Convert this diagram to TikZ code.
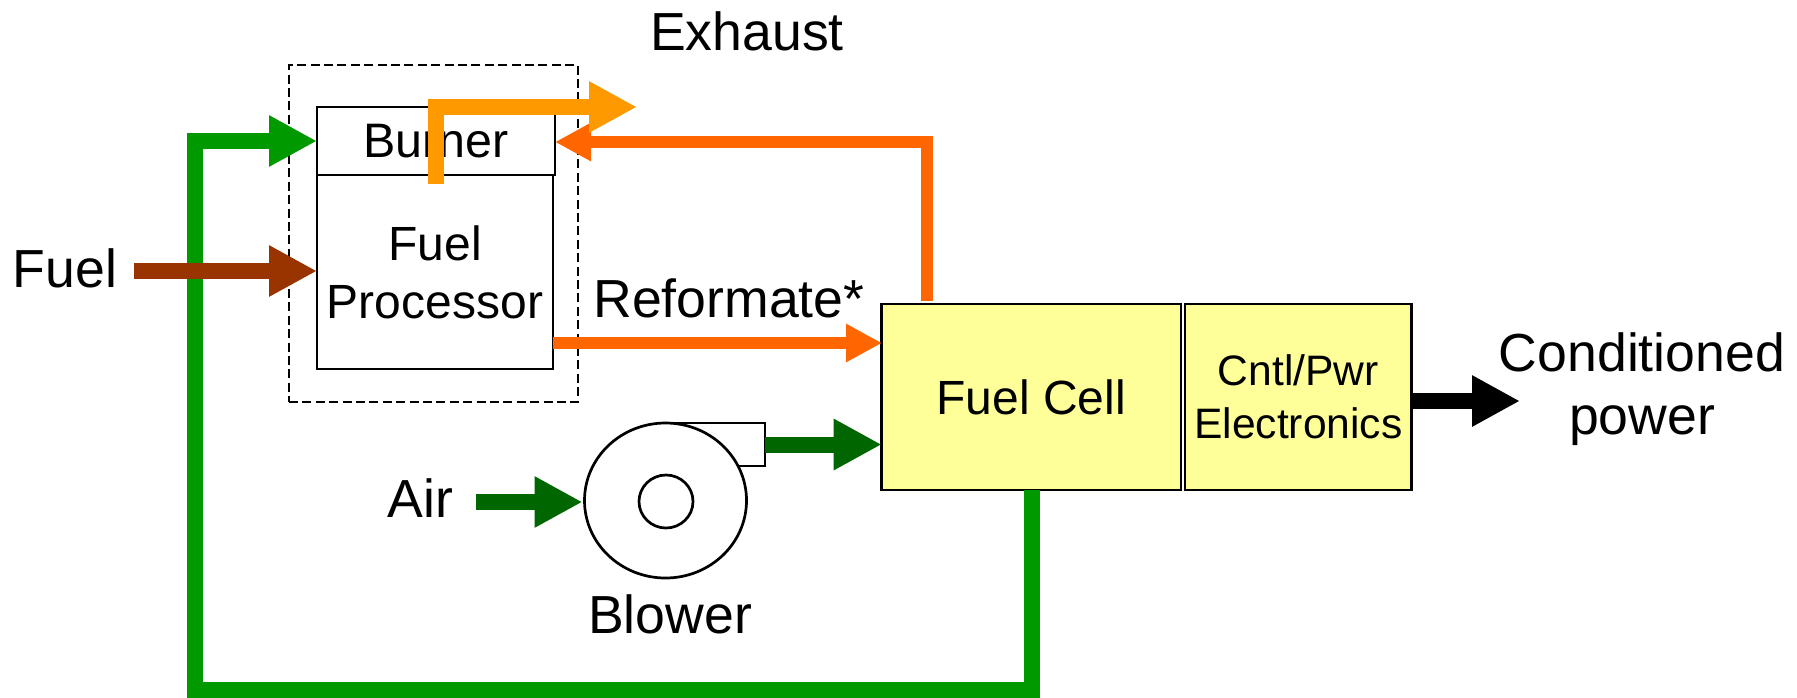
\documentclass[tikz,border=0pt]{standalone}
\usepackage{fontspec}
\setmainfont{Liberation Sans}
\usetikzlibrary{arrows.meta,shapes.geometric,calc}
\definecolor{cExhaust}{HTML}{FF9900}
\definecolor{cReform}{HTML}{FF6600}
\definecolor{cGreen}{HTML}{009900}
\definecolor{cDark}{HTML}{006600}
\definecolor{cFuel}{HTML}{993300}
\definecolor{cYellow}{HTML}{FFFF99}
\tikzset{
  box/.style={draw=black,line width=1.35pt,inner sep=0pt,outer sep=0pt,align=center},
  label26/.style={inner sep=0pt,outer sep=0pt,align=center,font=\fontsize{26.8}{31.5}\selectfont},
  big/.style={line width=8pt,-{Triangle[length=24pt,width=24pt]}},
  thin/.style={line width=6pt,-{Triangle[length=18pt,width=18pt]}},
}
\begin{document}
\begin{tikzpicture}[x=0.5pt,y=-0.5pt]
\useasboundingbox (0,0) rectangle (1797,697);
% enclosure
\node[draw=black,line width=1.25pt,dash pattern=on 4.5pt off 2.2pt,minimum width=144.5pt,minimum height=168.5pt,inner sep=0,outer sep=0] (encl) at (433.5,233.5) {};
% boxes
\node[box,minimum width=118pt,minimum height=97pt,font=\fontsize{24}{29}\selectfont] (fp) at (435,272) {Fuel\\Processor};
\node[box,minimum width=119pt,minimum height=34pt,font=\fontsize{24.2}{29}\selectfont] (burner) at (436,141) {\raisebox{-0.5pt}{Burner}};
\node[box,fill=cYellow,minimum width=149.65pt,minimum height=93pt,font=\fontsize{24}{29}\selectfont] (fc) at (1031.35,397) {Fuel Cell};
\node[box,fill=cYellow,minimum width=113.3pt,minimum height=93pt,font=\fontsize{21.3}{26.5}\selectfont] (elec) at (1298.3,397) {Cntl/Pwr\\Electronics};
% blower
\node[draw=black,line width=1.25pt,fill=white,minimum width=50pt,minimum height=21.5pt,inner sep=0,outer sep=0] (volute) at (715,444.5) {};
\node[draw=black,line width=1.35pt,fill=white,ellipse,minimum width=81pt,minimum height=77.5pt,inner sep=0,outer sep=0] (blower) at (665.5,500.5) {};
\node[draw=black,line width=1.35pt,ellipse,minimum width=27pt,minimum height=26.5pt,inner sep=0,outer sep=0] (hub) at (666,501.5) {};
% labels
\node[label26] (exhaust) at (747,31) {Exhaust};
\node[label26] (fuel) at (65,268) {Fuel};
\node[label26] (reformate) at (729,298) {Reformate*};
\node[label26] (cond) at (1642,389) {Conditioned\\power};
\node[label26] (air) at (420.5,498) {Air};
\node[label26] (blowerlabel) at (670,614) {Blower};
% free ends
\coordinate (fuelstart) at (134,271);
\coordinate (reformtip) at (882,343);
\coordinate (returnstart) at (927,301);
\coordinate (returncorner) at (927,142);
\coordinate (exstart) at (436,184);
\coordinate (excorner) at (436,107);
\coordinate (extip) at (637,107);
\coordinate (gcornerA) at (1031.5,689.5);
\coordinate (gcornerB) at (194.5,689.5);
\coordinate (gcornerC) at (194.5,141);
\coordinate (airstart) at (476,502);
\coordinate (outtip) at (1520,401);
% connectors
\draw[big,cGreen,line join=miter] (gcornerA |- fc.south) -- (gcornerA) -- (gcornerB) -- (gcornerC) -- (burner.west);
\draw[big,cFuel] (fuelstart) -- (fuelstart -| fp.west);
\draw[thin,cReform] (fp.east |- reformtip) -- (reformtip);
\draw[thin,cReform,line join=miter] (returnstart) -- (returncorner) -- (burner.east |- returncorner);
\draw[big,cExhaust,line join=miter] (exstart) -- (excorner) -- (extip);
\draw[big,cDark] (volute.east) -- (volute.east -| fc.west);
\draw[big,cDark,shorten >=1pt] (airstart) -- (airstart -| blower.west);
\draw[big,black] (elec.east |- outtip) -- (outtip);
\end{tikzpicture}
\end{document}
